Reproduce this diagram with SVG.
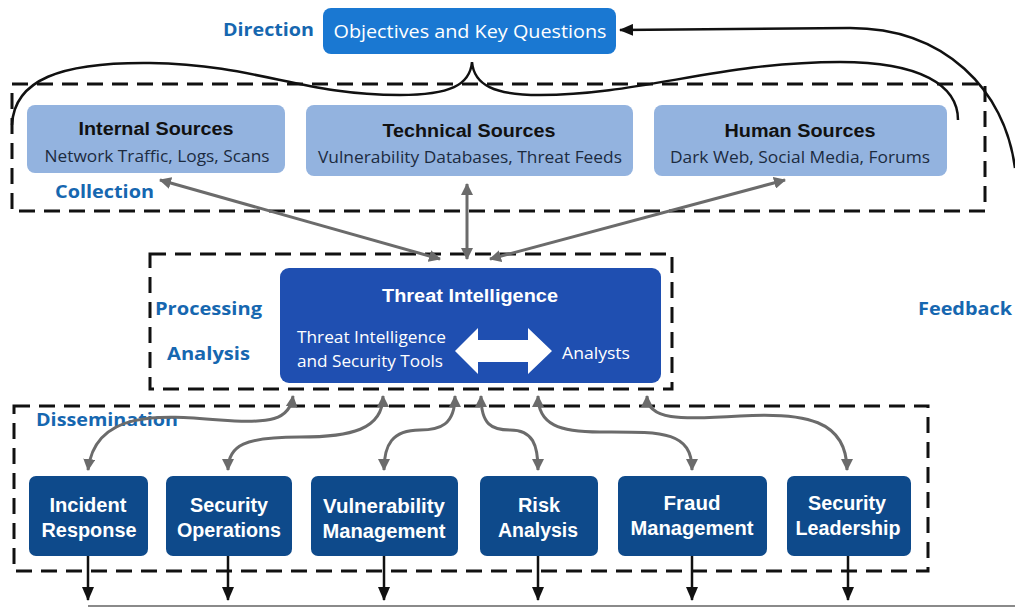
<svg xmlns="http://www.w3.org/2000/svg" width="1015" height="612" viewBox="0 0 1015 612">
<defs>
<marker id="ag" viewBox="0 0 12 12" refX="11" refY="6" markerWidth="12" markerHeight="12" markerUnits="userSpaceOnUse" orient="auto-start-reverse"><path d="M0 0 L12 6 L0 12 z" fill="#6b6b6b"/></marker>
<marker id="ak" viewBox="0 0 14 12" refX="13" refY="6" markerWidth="14" markerHeight="12" markerUnits="userSpaceOnUse" orient="auto"><path d="M0 0 L14 6 L0 12 z" fill="#111"/></marker>
<style>
.dash{fill:none;stroke:#111;stroke-width:3;stroke-dasharray:16 9}
.lab{font-family:"Open Sans","Liberation Sans",sans-serif;font-weight:bold;font-size:18px;fill:#1667b0}
.src{fill:#93b3df}
.st{font-family:"Liberation Sans",Arial,sans-serif;font-weight:bold;font-size:18px;fill:#111;text-anchor:middle}
.ss{font-family:"Open Sans","Liberation Sans",sans-serif;font-size:16.5px;fill:#1c2b3f;text-anchor:middle}
.dis{fill:#0e4a8b}
.dt{font-family:"Liberation Sans",Arial,sans-serif;font-weight:bold;font-size:20px;fill:#fff;text-anchor:middle}
.wt{font-family:"Open Sans","Liberation Sans",sans-serif;font-size:17px;fill:#fff}
.ga{fill:none;stroke:#6b6b6b;stroke-width:3;marker-start:url(#ag);marker-end:url(#ag)}
.ka{fill:none;stroke:#111;stroke-width:2.5;marker-end:url(#ak)}
</style>
</defs>
<rect width="1015" height="612" fill="#fff"/>

<g id="frames">
<rect class="dash" x="12" y="84" width="973" height="127"/>
<rect class="dash" x="150" y="254" width="522" height="135"/>
<rect class="dash" x="14" y="406" width="914" height="165"/>
</g>

<g id="labels">
<text class="lab" x="223" y="36" textLength="91" lengthAdjust="spacingAndGlyphs">Direction</text>
<text class="lab" x="55" y="198" textLength="99" lengthAdjust="spacingAndGlyphs">Collection</text>
<text class="lab" x="155" y="315" textLength="107" lengthAdjust="spacingAndGlyphs">Processing</text>
<text class="lab" x="167" y="360" textLength="83" lengthAdjust="spacingAndGlyphs">Analysis</text>
<text class="lab" x="918" y="315" textLength="94" lengthAdjust="spacingAndGlyphs">Feedback</text>
<text class="lab" x="36" y="426" textLength="142" lengthAdjust="spacingAndGlyphs">Dissemination</text>
</g>

<g id="objectives">
<rect x="323" y="8" width="293" height="46" rx="8" fill="#1a78d2"/>
<text x="470" y="38" text-anchor="middle" font-family="'Open Sans','Liberation Sans',sans-serif" font-size="19" fill="#fff" textLength="273" lengthAdjust="spacingAndGlyphs">Objectives and Key Questions</text>
</g>

<g id="internal">
<rect class="src" x="27" y="105" width="258" height="68" rx="8"/>
<text class="st" x="156" y="135" textLength="155" lengthAdjust="spacingAndGlyphs">Internal Sources</text>
<text class="ss" x="157" y="162" textLength="225" lengthAdjust="spacingAndGlyphs">Network Traffic, Logs, Scans</text>
</g>
<g id="technical">
<rect class="src" x="306" y="105" width="327" height="71" rx="8"/>
<text class="st" x="469" y="137" textLength="173" lengthAdjust="spacingAndGlyphs">Technical Sources</text>
<text class="ss" x="470" y="163" textLength="304" lengthAdjust="spacingAndGlyphs">Vulnerability Databases, Threat Feeds</text>
</g>
<g id="human">
<rect class="src" x="654" y="105" width="293" height="71" rx="8"/>
<text class="st" x="800" y="137" textLength="151" lengthAdjust="spacingAndGlyphs">Human Sources</text>
<text class="ss" x="800" y="163" textLength="260" lengthAdjust="spacingAndGlyphs">Dark Web, Social Media, Forums</text>
</g>

<g id="threat-intelligence">
<rect x="280" y="268" width="381" height="115" rx="9" fill="#1f4fb1"/>
<text x="470" y="302" text-anchor="middle" font-family="'Liberation Sans',Arial,sans-serif" font-weight="bold" font-size="18" fill="#fff" textLength="176" lengthAdjust="spacingAndGlyphs">Threat Intelligence</text>
<text class="wt" x="297" y="343" textLength="149" lengthAdjust="spacingAndGlyphs">Threat Intelligence</text>
<text class="wt" x="297" y="367" textLength="146" lengthAdjust="spacingAndGlyphs">and Security Tools</text>
<text class="wt" x="562" y="359" textLength="68" lengthAdjust="spacingAndGlyphs">Analysts</text>
<polygon points="455,351 478,328 478,340 528,340 528,328 552,351 528,374 528,362 478,362 478,374" fill="#fff"/>
</g>

<g id="incident-response">
<rect class="dis" x="29" y="476" width="119" height="80" rx="7"/>
<text class="dt" x="88" y="512" textLength="77" lengthAdjust="spacingAndGlyphs">Incident</text>
<text class="dt" x="89" y="537" textLength="95" lengthAdjust="spacingAndGlyphs">Response</text>
</g>
<g id="security-operations">
<rect class="dis" x="166" y="476" width="126" height="80" rx="7"/>
<text class="dt" x="229" y="512" textLength="78" lengthAdjust="spacingAndGlyphs">Security</text>
<text class="dt" x="229" y="537" textLength="104" lengthAdjust="spacingAndGlyphs">Operations</text>
</g>
<g id="vulnerability-management">
<rect class="dis" x="311" y="476" width="147" height="80" rx="7"/>
<text class="dt" x="384" y="513" textLength="122" lengthAdjust="spacingAndGlyphs">Vulnerability</text>
<text class="dt" x="384" y="538" textLength="123" lengthAdjust="spacingAndGlyphs">Management</text>
</g>
<g id="risk-analysis">
<rect class="dis" x="480" y="476" width="118" height="80" rx="7"/>
<text class="dt" x="539" y="512" textLength="42" lengthAdjust="spacingAndGlyphs">Risk</text>
<text class="dt" x="538" y="537" textLength="80" lengthAdjust="spacingAndGlyphs">Analysis</text>
</g>
<g id="fraud-management">
<rect class="dis" x="618" y="476" width="149" height="80" rx="7"/>
<text class="dt" x="692" y="510" textLength="57" lengthAdjust="spacingAndGlyphs">Fraud</text>
<text class="dt" x="692" y="535" textLength="123" lengthAdjust="spacingAndGlyphs">Management</text>
</g>
<g id="security-leadership">
<rect class="dis" x="787" y="476" width="124" height="80" rx="7"/>
<text class="dt" x="847" y="510" textLength="78" lengthAdjust="spacingAndGlyphs">Security</text>
<text class="dt" x="848" y="535" textLength="105" lengthAdjust="spacingAndGlyphs">Leadership</text>
</g>

<g id="connectors">
<path d="M12 125 C14 80 60 62 150 63 C260 65 300 95 400 95 C450 95 470 85 472 62 C474 85 494 95 540 95 C640 95 720 62 840 62 C920 62 958 85 958 120" fill="none" stroke="#111" stroke-width="2.5"/>
<path d="M1015 168 C1005 90 945 28 850 28 L620 30" fill="none" stroke="#111" stroke-width="2.5" marker-end="url(#ak)"/>
<path class="ga" d="M440 259 L160 180"/>
<path class="ga" d="M467 259 L467 184"/>
<path class="ga" d="M490 259 L785 180"/>
<path class="ga" d="M293 396 C290 420 270 424 220 420 C160 415 95 410 88 470"/>
<path class="ga" d="M383 396 C383 430 350 437 300 437 C245 437 228 445 228 470"/>
<path class="ga" d="M455 396 C455 425 440 430 420 430 C392 430 384 445 384 470"/>
<path class="ga" d="M481 396 C481 425 492 430 510 430 C533 430 538 445 538 470"/>
<path class="ga" d="M538 396 C538 425 560 432 600 432 C660 432 692 430 692 470"/>
<path class="ga" d="M647 396 C647 420 680 420 740 416 C805 412 847 420 847 470"/>
<path class="ka" d="M88 556 L88 600"/>
<path class="ka" d="M228 556 L228 600"/>
<path class="ka" d="M384 556 L384 600"/>
<path class="ka" d="M538 556 L538 600"/>
<path class="ka" d="M692 556 L692 600"/>
<path class="ka" d="M848 556 L848 600"/>
<line x1="88" y1="606" x2="1015" y2="606" stroke="#8a8a8a" stroke-width="2"/>
</g>
</svg>
